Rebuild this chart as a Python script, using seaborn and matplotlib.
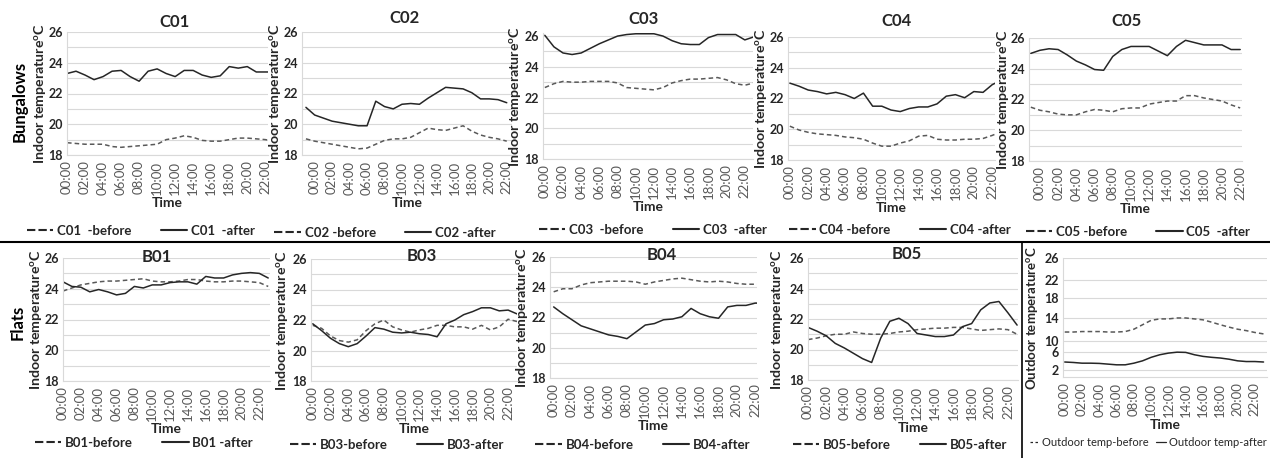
"""
Indoor temperature before / after, bungalows (C01-C05) and flats (B01-B05), plus outdoor.
"""

import matplotlib.pyplot as plt
import seaborn as sns
from matplotlib.lines import Line2D

# ---- data (hourly readings) ----
hours = list(range(24))
hours_early = list(range(-1, 23))  # C02 / C05 logger started an hour earlier
tick_hours = list(range(0, 24, 2))
tick_labels = [f"{h:02d}:00" for h in tick_hours]

c01_before = [18.8, 18.75, 18.7, 18.7, 18.7, 18.55, 18.5, 18.55, 18.6, 18.65, 18.7, 19.0,
              19.1, 19.25, 19.15, 18.95, 18.9, 18.9, 19.0, 19.1, 19.1, 19.05, 19.0, 18.9]
c01_after = [23.3, 23.45, 23.2, 22.9, 23.1, 23.45, 23.5, 23.1, 22.8, 23.45, 23.6, 23.3,
             23.1, 23.5, 23.5, 23.2, 23.05, 23.15, 23.75, 23.65, 23.75, 23.4, 23.4, 23.4]

c02_before = [19.05, 18.9, 18.8, 18.7, 18.6, 18.5, 18.4, 18.45, 18.7, 18.95, 19.05, 19.05,
              19.15, 19.45, 19.75, 19.65, 19.6, 19.75, 19.9, 19.55, 19.3, 19.15, 19.05, 18.9]
c02_after = [21.1, 20.6, 20.4, 20.2, 20.1, 20.0, 19.9, 19.9, 21.5, 21.15, 21.0, 21.3,
             21.35, 21.3, 21.7, 22.05, 22.4, 22.35, 22.3, 22.05, 21.65, 21.65, 21.6, 21.4]

c03_before = [22.65, 22.9, 23.05, 23.0, 23.0, 23.05, 23.05, 23.05, 22.95, 22.65, 22.6, 22.55,
              22.5, 22.65, 22.95, 23.1, 23.2, 23.2, 23.25, 23.3, 23.15, 22.9, 22.8, 22.95]
c03_after = [26.05, 25.3, 24.9, 24.8, 24.9, 25.2, 25.5, 25.75, 26.0, 26.1, 26.15, 26.15,
             26.15, 26.0, 25.7, 25.5, 25.45, 25.45, 25.9, 26.1, 26.1, 26.1, 25.75, 25.95]

c04_before = [20.2, 19.95, 19.8, 19.7, 19.65, 19.6, 19.5, 19.45, 19.35, 19.1, 18.9, 18.9,
              19.1, 19.25, 19.55, 19.6, 19.35, 19.3, 19.3, 19.35, 19.35, 19.4, 19.6, 19.85]
c04_after = [23.0, 22.8, 22.55, 22.45, 22.3, 22.4, 22.25, 22.0, 22.35, 21.5, 21.5, 21.25,
             21.15, 21.35, 21.45, 21.45, 21.65, 22.15, 22.25, 22.05, 22.45, 22.4, 22.9, 23.2]

c05_before = [21.5, 21.3, 21.2, 21.05, 21.0, 21.0, 21.2, 21.35, 21.3, 21.2, 21.4, 21.45,
              21.45, 21.7, 21.8, 21.9, 21.9, 22.25, 22.25, 22.1, 22.0, 21.9, 21.65, 21.45]
c05_after = [25.0, 25.2, 25.3, 25.25, 24.9, 24.5, 24.25, 23.95, 23.9, 24.8, 25.25, 25.45,
             25.45, 25.45, 25.15, 24.85, 25.45, 25.85, 25.7, 25.55, 25.55, 25.55, 25.25, 25.25]

b01_before = [23.85, 24.05, 24.25, 24.35, 24.45, 24.5, 24.5, 24.55, 24.6, 24.65, 24.5, 24.45,
              24.45, 24.5, 24.6, 24.6, 24.5, 24.45, 24.45, 24.5, 24.5, 24.45, 24.4, 24.15]
b01_after = [24.45, 24.15, 24.1, 23.8, 23.95, 23.8, 23.6, 23.7, 24.15, 24.05, 24.25, 24.25,
             24.4, 24.45, 24.45, 24.3, 24.8, 24.7, 24.7, 24.9, 25.0, 25.05, 25.0, 24.7]

b03_before = [21.65, 21.45, 20.95, 20.65, 20.55, 20.7, 21.3, 21.75, 22.0, 21.55, 21.35, 21.2,
              21.35, 21.45, 21.65, 21.65, 21.55, 21.55, 21.4, 21.65, 21.35, 21.55, 22.05, 21.9]
b03_after = [21.75, 21.3, 20.8, 20.45, 20.25, 20.45, 20.95, 21.5, 21.4, 21.2, 21.15, 21.2,
             21.1, 21.05, 20.9, 21.75, 22.0, 22.35, 22.55, 22.8, 22.8, 22.6, 22.65, 22.4]

b04_before = [23.7, 23.9, 23.9, 24.15, 24.3, 24.35, 24.4, 24.4, 24.4, 24.35, 24.2, 24.35,
              24.45, 24.55, 24.6, 24.5, 24.4, 24.35, 24.4, 24.35, 24.25, 24.2, 24.2, 24.2]
b04_after = [22.7, 22.25, 21.85, 21.45, 21.25, 21.05, 20.85, 20.75, 20.6, 21.05, 21.5, 21.6,
             21.85, 21.9, 22.05, 22.6, 22.25, 22.05, 21.95, 22.7, 22.8, 22.8, 22.95, 22.95]

b05_before = [20.65, 20.75, 20.9, 21.0, 21.0, 21.15, 21.05, 21.0, 21.0, 21.05, 21.15, 21.2,
              21.3, 21.35, 21.4, 21.4, 21.45, 21.45, 21.35, 21.25, 21.3, 21.35, 21.3, 21.0]
b05_after = [21.45, 21.2, 20.9, 20.4, 20.1, 19.75, 19.4, 19.15, 20.75, 21.85, 22.05, 21.7,
             21.05, 20.95, 20.85, 20.85, 20.95, 21.5, 21.7, 22.6, 23.05, 23.15, 22.4, 21.6]

outdoor_before = [10.2, 10.2, 10.3, 10.3, 10.3, 10.2, 10.2, 10.3, 10.8, 11.75, 12.7, 13.0,
                  13.0, 13.2, 13.2, 13.0, 12.8, 12.3, 11.75, 11.25, 10.8, 10.5, 10.1, 9.8]
outdoor_after = [3.8, 3.7, 3.55, 3.55, 3.5, 3.35, 3.2, 3.2, 3.55, 4.05, 4.8, 5.35,
                 5.7, 5.9, 5.85, 5.35, 5.0, 4.8, 4.65, 4.4, 4.05, 3.9, 3.9, 3.8]
# the outdoor axis labels in the original are not evenly spaced
outdoor_tick_labels = ["2", "6", "10", "14", "18", "22", "26"]
outdoor_tick_pos = [2.0, 5.9, 8.3, 13.2, 17.45, 21.4, 26.0]

# ---- layout ----
W, H = 1270, 458
FONT = "Lato"
DARK = "#262626"
BEFORE_COLOR = "#595959"
GRID = "#d9d9d9"
INDOOR_LABEL = r"Indoor temperature$^{\mathbf{o}}$C"

# name, x, before, after, legend labels, axes rect (px: l, t, r, b), xlim, ylim,
# title position (px), legend centre (px), ylabel centre x (px)
panels = [
    ("C01", hours, c01_before, c01_after, ("C01  -before", "C01  -after"),
     (67, 32, 268, 155), (0, 22.3), (18, 26), (175, 22), (141, 231), 42),
    ("C02", hours_early, c02_before, c02_after, ("C02 -before", "C02 -after"),
     (302, 32, 512, 155), (-1.45, 22.6), (18, 26), (405, 18), (385, 233), 277),
    ("C03", hours, c03_before, c03_after, ("C03  -before", "C03  -after"),
     (543, 33, 753, 159), (-0.2, 22.9), (18, 26.2), (643, 19), (653, 230), 517),
    ("C04", hours, c04_before, c04_after, ("C04 -before", "C04 -after"),
     (788, 37, 995, 160), (-0.2, 22.3), (18, 26), (897, 21), (900, 230), 763),
    ("C05", hours_early, c05_before, c05_after, ("C05 -before", "C05  -after"),
     (1029, 38, 1242, 161), (-1.2, 22.2), (18, 26), (1127, 21), (1138, 232), 1005),
    ("B01", hours, b01_before, b01_after, ("B01-before", "B01 -after"),
     (63, 258, 270, 381), (0, 23.2), (18, 26), (157, 257), (144, 443), 38),
    ("B03", hours, b03_before, b03_after, ("B03-before", "B03-after"),
     (311, 259, 517, 381), (-0.2, 23.0), (18, 26), (422, 256), (397, 445), 284),
    ("B04", hours, b04_before, b04_after, ("B04-before", "B04-after"),
     (550, 257, 757, 378), (-0.4, 22.2), (18, 26), (662, 255), (643, 445), 524),
    ("B05", hours, b05_before, b05_after, ("B05-before", "B05-after"),
     (808, 258, 1018, 380), (0, 23.1), (18, 26), (907, 254), (900, 445), 779),
]


def px_rect(left, top, right, bottom):
    return [left / W, 1 - bottom / H, (right - left) / W, (bottom - top) / H]


def place_ylabel(ax, rect, x_px):
    # the label anchor is its right-hand edge, so shift by half the text height
    left, _, right, _ = rect
    ax.yaxis.set_label_coords((x_px + 7 - left) / (right - left), 0.5)


def style_axes(ax, xlim, ylim):
    ax.set_xlim(*xlim)
    ax.set_ylim(*ylim)
    ax.set_xticks(tick_hours)
    ax.set_xticklabels(tick_labels, rotation=90)
    ax.tick_params(axis="x", length=0, pad=4, labelsize=9.5, labelcolor="#595959")
    ax.tick_params(axis="y", length=0, pad=3, labelsize=9)
    for lab in ax.get_yticklabels():
        lab.set_fontweight("bold")
        lab.set_color(DARK)
    ax.grid(axis="y", which="both", color=GRID, lw=0.8)
    ax.grid(axis="x", visible=False)
    for side in ("top", "right"):
        ax.spines[side].set_visible(False)
    for side in ("left", "bottom"):
        ax.spines[side].set_color(GRID)
        ax.spines[side].set_linewidth(0.8)
    ax.set_xlabel("Time", fontsize=10, fontweight="bold", color=DARK, labelpad=2)


def draw_lines(ax, x, before, after):
    sns.lineplot(x=x, y=before, ax=ax, color=BEFORE_COLOR, lw=1.1,
                 linestyle=(0, (3, 2)))
    sns.lineplot(x=x, y=after, ax=ax, color=DARK, lw=1.1)


def add_legend(ax, labels, centre):
    handles = [
        Line2D([], [], color=DARK, lw=1.5, linestyle=(0, (4, 1.5))),
        Line2D([], [], color=DARK, lw=1.5),
    ]
    ax.legend(handles, labels, loc="center", ncol=2, frameon=False,
              bbox_to_anchor=(centre[0] / W, 1 - centre[1] / H),
              bbox_transform=fig.transFigure, handlelength=2.0, handletextpad=0.3,
              columnspacing=2.2, prop={"family": FONT, "size": 9.5, "weight": "bold"},
              labelcolor=DARK)


sns.set_style("white")
plt.rcParams["font.family"] = [FONT, "DejaVu Sans"]
plt.rcParams["mathtext.fontset"] = "custom"
plt.rcParams["mathtext.rm"] = FONT
plt.rcParams["mathtext.bf"] = f"{FONT}:bold"

fig = plt.figure(figsize=(W / 100, H / 100), dpi=100)

for name, x, before, after, labels, rect, xlim, ylim, tpos, lpos, ylab_x in panels:
    ax = fig.add_axes(px_rect(*rect))
    draw_lines(ax, x, before, after)
    style_axes(ax, xlim, ylim)
    ax.set_yticks([18, 20, 22, 24, 26])
    ax.set_yticks(range(18, 27), minor=True)
    ax.tick_params(axis="y", which="minor", length=0)
    ax.set_ylabel(INDOOR_LABEL, fontsize=10.2, fontweight="bold", color=DARK)
    place_ylabel(ax, rect, ylab_x)
    fig.text(tpos[0] / W, 1 - tpos[1] / H, name, ha="center", va="center",
             fontsize=12, fontweight="bold", color=DARK)
    add_legend(ax, labels, lpos)

# outdoor panel
out_rect = (1063, 258, 1267, 377)
ax = fig.add_axes(px_rect(*out_rect))
draw_lines(ax, hours, outdoor_before, outdoor_after)
style_axes(ax, (-0.2, 23.4), (0.6, 26))
ax.set_yticks(outdoor_tick_pos)
ax.set_yticklabels(outdoor_tick_labels, fontweight="bold", color=DARK)
ax.set_ylabel(r"Outdoor temperature$^{\mathbf{o}}$C", fontsize=9.5,
              fontweight="bold", color=DARK)
place_ylabel(ax, out_rect, 1033)
handles = [Line2D([], [], color=DARK, lw=0.9, linestyle=(0, (2, 2))),
           Line2D([], [], color=DARK, lw=0.9)]
ax.legend(handles, ["Outdoor temp-before", "Outdoor temp-after"], loc="center", ncol=2,
          frameon=False, bbox_to_anchor=(1148 / W, 1 - 442 / H),
          bbox_transform=fig.transFigure, handlelength=0.9, handletextpad=0.25,
          columnspacing=0.6, borderpad=0.1, prop={"family": FONT, "size": 8},
          labelcolor=DARK)

# row labels and separators
fig.text(20 / W, 1 - 101 / H, "Bungalows", rotation=90, ha="center", va="center",
         fontsize=12, fontweight="bold", color="black")
fig.text(18 / W, 1 - 322 / H, "Flats", rotation=90, ha="center", va="center",
         fontsize=12, fontweight="bold", color="black")
fig.add_artist(Line2D([0, 1], [1 - 242 / H, 1 - 242 / H], transform=fig.transFigure,
                      color="black", lw=1.5))
fig.add_artist(Line2D([1022 / W, 1022 / W], [0, 1 - 242 / H], transform=fig.transFigure,
                      color="black", lw=1.2))

fig.savefig("out.png", dpi=100)
